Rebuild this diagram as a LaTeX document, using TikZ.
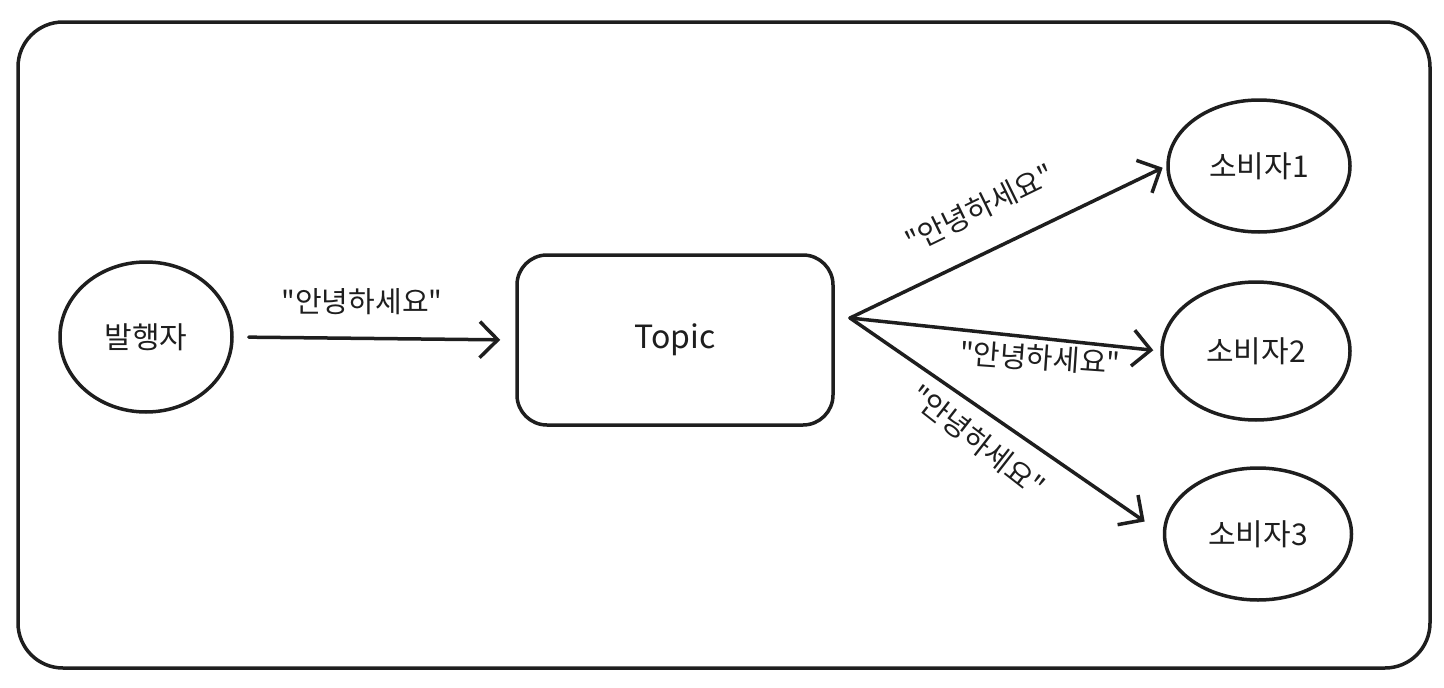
\documentclass[tikz,border=0pt]{standalone}
\usepackage{fontspec}
\newfontfamily\krfont{Noto Sans CJK KR}
\usetikzlibrary{shapes.geometric,arrows.meta}
\definecolor{ink}{HTML}{1E1E1E}

\tikzset{
  actor/.style={draw=ink,line width=3.5pt,ellipse,inner sep=0pt,font=\krfont\fontsize{30}{36}\selectfont,text=ink},
  topicbox/.style={draw=ink,line width=3.5pt,rectangle,rounded corners=30pt,inner sep=0pt,
    minimum width=316pt,minimum height=170pt,font=\krfont\fontsize{32}{38}\selectfont,text=ink},
  msg/.style={draw=ink,line width=3.5pt,line cap=round,-{Straight Barb[length=18pt,width=36pt,line width=3.5pt]}},
  msglabel/.style={font=\krfont\fontsize{29}{34}\selectfont,text=ink,inner sep=0pt}
}

\begin{document}
\begin{tikzpicture}[x=1pt,y=-1pt,line join=round]
  % Keep the original canvas size, margins included.
  \useasboundingbox (0,0) rectangle (1444,688);

  % Outer frame.
  \draw[ink,line width=3.5pt,rounded corners=45pt] (18,22) rectangle (1430,668);

  % Publisher, topic and consumers.
  \node[actor,minimum width=172pt,minimum height=150pt] (pub) at (146,337) {발행자};
  \node[topicbox] (topic) at (675,340) {Topic};
  \node[actor,minimum width=182pt,minimum height=132pt] (sub1) at (1259,166) {소비자1};
  \node[actor,minimum width=188pt,minimum height=138pt] (sub2) at (1256,351) {소비자2};
  \node[actor,minimum width=187pt,minimum height=132pt] (sub3) at (1258,534) {소비자3};

  % Fan-out point just right of the topic box.
  \coordinate (fan) at (850,318);

  % Messages.
  \draw[msg,shorten <=15pt,shorten >=15pt] (pub.east) -- (topic.west);
  \draw[msg,shorten >=4pt] (fan) -- (sub1.west);
  \draw[msg,shorten >=7pt] (fan) -- (sub2.west);
  \draw[msg,shorten >=22pt] (fan) -- (sub3.west);

  % Message texts.
  \node[msglabel] (m0) at (362,302) {"안녕하세요"};
  \node[msglabel,rotate=26] (m1) at (980,208) {"안녕하세요"};
  \node[msglabel,rotate=-4] (m2) at (1040,358) {"안녕하세요"};
  \node[msglabel,rotate=-38] (m3) at (978,441) {"안녕하세요"};
\end{tikzpicture}
\end{document}
